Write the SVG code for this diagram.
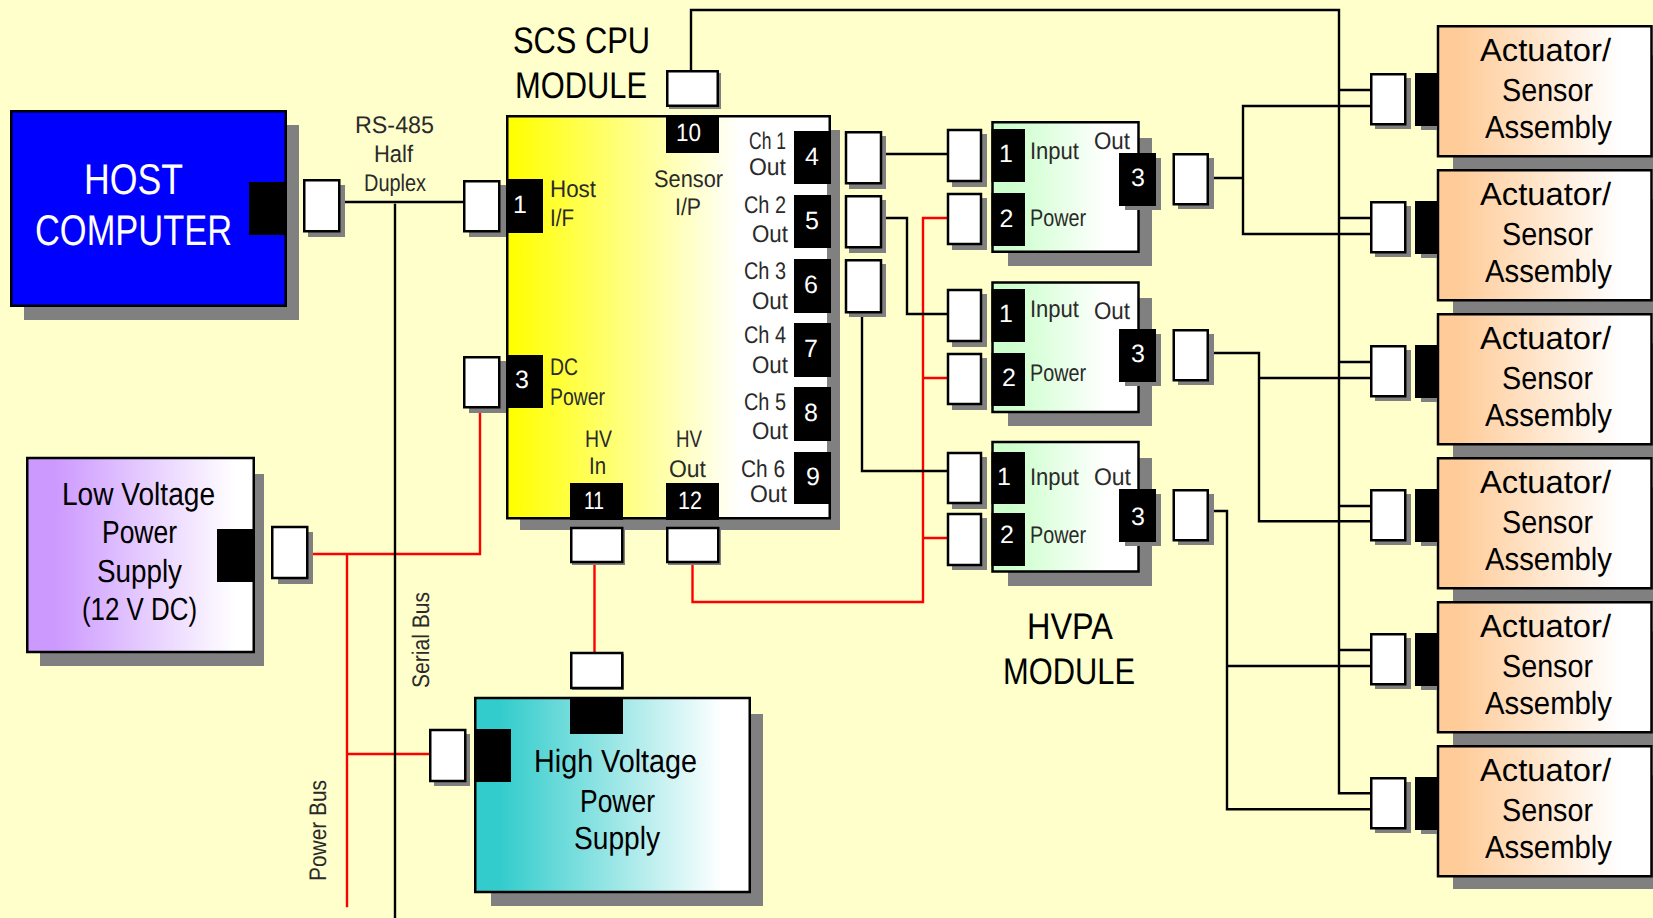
<svg xmlns="http://www.w3.org/2000/svg" width="1653" height="918" viewBox="0 0 1653 918">
<style>
text{font-family:"Liberation Sans",Arial,sans-serif;text-rendering:geometricPrecision}
.box{stroke:#000;stroke-width:2.5}
.plug{fill:#fff;stroke:#000;stroke-width:2.5}
.sh{fill:#808080}
.pt{fill:#000}
.w{stroke:#000;stroke-width:2.4;fill:none;stroke-linecap:square}
.r{stroke:#f00;stroke-width:2.4;fill:none;stroke-linecap:square}
.n{fill:#fff;font-size:25px;text-anchor:middle}
.l{fill:#2a2a2a;font-size:24px}
.a{fill:#000;font-size:32px}
.t{fill:#000;font-size:37px}
</style>
<defs>
<linearGradient id="gc" x1="0" x2="1" y1="0" y2="0"><stop offset="0.01" stop-color="#ff0"/><stop offset="0.72" stop-color="#fff"/></linearGradient>
<linearGradient id="gl" x1="0" x2="1" y1="0" y2="0"><stop offset="0.12" stop-color="#c9f"/><stop offset="0.92" stop-color="#fff"/></linearGradient>
<linearGradient id="gh" x1="0" x2="1" y1="0" y2="0"><stop offset="0.09" stop-color="#3cc"/><stop offset="0.9" stop-color="#fff"/></linearGradient>
<linearGradient id="gv" x1="0" x2="1" y1="0" y2="0"><stop offset="0.12" stop-color="#cfc"/><stop offset="0.78" stop-color="#fff"/></linearGradient>
<linearGradient id="ga" x1="0" x2="1" y1="0" y2="0"><stop offset="0.1" stop-color="#fc9"/><stop offset="0.86" stop-color="#fff"/></linearGradient>
</defs>
<rect width="1653" height="918" fill="#ffc"/>
<g id="connectors">
<path class="r" d="M480 405V554H313M347 554V906M347 754H429M594.500 560V652M692.500 565V602H923M923 602V218H947M923 378H947M923 538H947"/>
<path class="w" d="M345 202H464M395 205V918M691 70V10H1339V793.300H1371M886 154H947M886 218H907V314H947M862 313V471H947M1214 178H1243M1243 106V234M1243 106H1371M1243 234H1371M1339 90H1371M1339 218H1371M1339 362H1371M1339 506H1371M1339 650H1371M1214 353H1259V521.300H1371M1259 378H1371M1214 511H1227V809.300H1371M1227 666H1371"/>
</g>
<g id="host-computer">
<rect class="sh" x="24" y="125" width="275" height="195"/>
<rect class="box" fill="#00f" x="11.250" y="111.250" width="274.500" height="194.500"/>
<rect class="pt" x="249" y="182" width="37" height="53"/>
<text x="84" y="194" font-size="43" fill="#fff" textLength="99" lengthAdjust="spacingAndGlyphs">HOST</text>
<text x="35" y="245" font-size="43" fill="#fff" textLength="197" lengthAdjust="spacingAndGlyphs">COMPUTER</text>
<rect class="sh" x="308" y="185" width="37" height="52"/><rect class="plug" x="304.250" y="180.250" width="35" height="51"/>
</g>
<g id="rs485-label">
<text class="l" x="355" y="133" textLength="79" lengthAdjust="spacingAndGlyphs">RS-485</text>
<text class="l" x="374" y="162" textLength="39" lengthAdjust="spacingAndGlyphs">Half</text>
<text class="l" x="364" y="191" textLength="62" lengthAdjust="spacingAndGlyphs">Duplex</text>
</g>
<g id="bus-labels">
<text class="l" transform="translate(429 688) rotate(-90)" textLength="96" lengthAdjust="spacingAndGlyphs">Serial Bus</text>
<text class="l" transform="translate(326 881) rotate(-90)" textLength="101" lengthAdjust="spacingAndGlyphs">Power  Bus</text>
</g>
<g id="scs-cpu-module">
<rect class="sh" x="520" y="130" width="320" height="400"/>
<rect class="box" fill="url(#gc)" x="507.250" y="116.250" width="322.500" height="402"/>
<rect class="sh" x="827" y="184" width="13" height="268"/>
<rect class="sh" x="469" y="185" width="37" height="52"/><rect class="plug" x="464.250" y="181.250" width="35" height="50"/>
<rect class="sh" x="469" y="361" width="37" height="52"/><rect class="plug" x="464.250" y="357.250" width="35" height="50"/>
<rect class="sh" x="669" y="73" width="52" height="36"/><rect class="plug" x="667.250" y="71.250" width="50.500" height="34.500"/>
<rect class="pt" x="506" y="179" width="37" height="54"/>
<rect class="pt" x="506" y="355" width="37" height="53"/>
<rect class="pt" x="666" y="115" width="53" height="38"/>
<rect class="pt" x="794" y="131" width="37" height="53"/>
<rect class="pt" x="794" y="195" width="37" height="53"/>
<rect class="pt" x="794" y="259" width="37" height="54"/>
<rect class="pt" x="794" y="323" width="37" height="54"/>
<rect class="pt" x="794" y="387" width="37" height="54"/>
<rect class="pt" x="794" y="452" width="37" height="52"/>
<rect class="pt" x="570" y="483" width="53" height="37"/>
<rect class="pt" x="666" y="483" width="53" height="37"/>
<text class="t" x="513" y="53" textLength="137" lengthAdjust="spacingAndGlyphs">SCS CPU</text>
<text class="t" x="515" y="98" textLength="132" lengthAdjust="spacingAndGlyphs">MODULE</text>
<text class="n" x="520" y="213">1</text>
<text class="n" x="522" y="388">3</text>
<text class="n" x="688.500" y="141" textLength="25" lengthAdjust="spacingAndGlyphs">10</text>
<text class="n" x="812" y="165">4</text>
<text class="n" x="812" y="229">5</text>
<text class="n" x="811" y="293">6</text>
<text class="n" x="811" y="357">7</text>
<text class="n" x="811" y="421">8</text>
<text class="n" x="813" y="485">9</text>
<text class="n" x="594" y="509" textLength="20" lengthAdjust="spacingAndGlyphs">11</text>
<text class="n" x="690" y="509" textLength="24" lengthAdjust="spacingAndGlyphs">12</text>
<text class="l" x="550" y="197" textLength="46" lengthAdjust="spacingAndGlyphs">Host</text>
<text class="l" x="550" y="226" textLength="24" lengthAdjust="spacingAndGlyphs">I/F</text>
<text class="l" x="654" y="187" textLength="69" lengthAdjust="spacingAndGlyphs">Sensor</text>
<text class="l" x="675" y="215" textLength="26" lengthAdjust="spacingAndGlyphs">I/P</text>
<text class="l" x="550" y="375" textLength="28" lengthAdjust="spacingAndGlyphs">DC</text>
<text class="l" x="550" y="405" textLength="55" lengthAdjust="spacingAndGlyphs">Power</text>
<text class="l" x="585" y="447" textLength="27" lengthAdjust="spacingAndGlyphs">HV</text>
<text class="l" x="676" y="447" textLength="26" lengthAdjust="spacingAndGlyphs">HV</text>
<text class="l" x="589" y="474" textLength="17" lengthAdjust="spacingAndGlyphs">In</text>
<text class="l" x="669" y="477" textLength="37" lengthAdjust="spacingAndGlyphs">Out</text>
<text class="l" x="749" y="149" textLength="37" lengthAdjust="spacingAndGlyphs">Ch 1</text>
<text class="l" x="749" y="175" textLength="37" lengthAdjust="spacingAndGlyphs">Out</text>
<text class="l" x="744" y="213" textLength="42" lengthAdjust="spacingAndGlyphs">Ch 2</text>
<text class="l" x="752" y="242" textLength="36" lengthAdjust="spacingAndGlyphs">Out</text>
<text class="l" x="744" y="279" textLength="42" lengthAdjust="spacingAndGlyphs">Ch 3</text>
<text class="l" x="752" y="309" textLength="36" lengthAdjust="spacingAndGlyphs">Out</text>
<text class="l" x="744" y="343" textLength="42" lengthAdjust="spacingAndGlyphs">Ch 4</text>
<text class="l" x="752" y="373" textLength="36" lengthAdjust="spacingAndGlyphs">Out</text>
<text class="l" x="744" y="410" textLength="42" lengthAdjust="spacingAndGlyphs">Ch 5</text>
<text class="l" x="752" y="439" textLength="36" lengthAdjust="spacingAndGlyphs">Out</text>
<text class="l" x="741" y="477" textLength="44" lengthAdjust="spacingAndGlyphs">Ch 6</text>
<text class="l" x="750" y="502" textLength="37" lengthAdjust="spacingAndGlyphs">Out</text>
<rect class="sh" x="849" y="136" width="37" height="53"/><rect class="plug" x="846" y="132.250" width="35" height="51"/>
<rect class="sh" x="849" y="200" width="37" height="53"/><rect class="plug" x="846" y="196.250" width="35" height="51"/>
<rect class="sh" x="849" y="264" width="37" height="53"/><rect class="plug" x="846" y="260.250" width="35" height="52"/>
<rect class="sh" x="572" y="530" width="53" height="35"/><rect class="plug" x="571.250" y="528" width="51" height="34"/>
<rect class="sh" x="668" y="530" width="53" height="35"/><rect class="plug" x="667.250" y="528" width="51" height="34"/>
</g>
<g id="low-voltage-supply">
<rect class="sh" x="40" y="474" width="224" height="192"/>
<rect class="box" fill="url(#gl)" x="27.250" y="458" width="226.500" height="194"/>
<rect class="pt" x="217" y="529" width="37" height="53"/>
<text class="a" x="62" y="505" textLength="153" lengthAdjust="spacingAndGlyphs">Low Voltage</text>
<text class="a" x="102" y="543" textLength="75" lengthAdjust="spacingAndGlyphs">Power</text>
<text class="a" x="97" y="582" textLength="85" lengthAdjust="spacingAndGlyphs">Supply</text>
<text class="a" x="82" y="620" textLength="115" lengthAdjust="spacingAndGlyphs">(12 V DC)</text>
<rect class="sh" x="278" y="532" width="35" height="52"/><rect class="plug" x="272.250" y="527" width="35" height="51"/>
</g>
<g id="high-voltage-supply">
<rect class="sh" x="491" y="714" width="272" height="192"/>
<rect class="box" fill="url(#gh)" x="475.250" y="698" width="274.500" height="194"/>
<rect class="pt" x="474" y="729" width="37" height="53"/>
<rect class="pt" x="570" y="697" width="53" height="37"/>
<text class="a" x="534" y="772" textLength="163" lengthAdjust="spacingAndGlyphs">High Voltage</text>
<text class="a" x="580" y="812" textLength="75" lengthAdjust="spacingAndGlyphs">Power</text>
<text class="a" x="574" y="849" textLength="86" lengthAdjust="spacingAndGlyphs">Supply</text>
<rect class="sh" x="434" y="734" width="36" height="52"/><rect class="plug" x="430.250" y="730" width="35" height="51"/>
<rect class="sh" x="572" y="654" width="52" height="36"/><rect class="plug" x="571.250" y="653" width="51" height="35"/>
</g>
<g id="hvpa-1">
<rect class="sh" x="1008" y="138" width="144" height="128"/>
<rect class="box" fill="url(#gv)" x="992.500" y="122.250" width="146" height="129.500"/>
<rect class="sh" x="952" y="134" width="35" height="53"/><rect class="plug" x="948" y="130" width="33" height="51"/>
<rect class="sh" x="952" y="198" width="35" height="52"/><rect class="plug" x="948" y="194" width="33" height="50"/>
<rect class="pt" x="991.500" y="129" width="33.500" height="53"/>
<rect class="pt" x="991.500" y="193" width="33.500" height="53"/>
<rect class="sh" x="1125" y="158" width="36" height="52"/>
<rect class="pt" x="1119" y="153" width="37" height="53"/>
<text class="n" x="1006" y="162">1</text>
<text class="n" x="1006.500" y="227">2</text>
<text class="n" x="1138" y="186">3</text>
<text class="l" x="1030" y="159" textLength="49" lengthAdjust="spacingAndGlyphs">Input</text>
<text class="l" x="1094" y="149" textLength="36" lengthAdjust="spacingAndGlyphs">Out</text>
<text class="l" x="1030" y="226" textLength="56" lengthAdjust="spacingAndGlyphs">Power</text>
<rect class="sh" x="1178" y="158" width="36" height="51"/><rect class="plug" x="1173.750" y="154.250" width="34" height="50"/>
</g>
<g id="hvpa-2">
<rect class="sh" x="1008" y="298" width="144" height="128"/>
<rect class="box" fill="url(#gv)" x="992.500" y="282.500" width="146" height="129.500"/>
<rect class="sh" x="952" y="294" width="35" height="53"/><rect class="plug" x="948" y="290" width="33" height="51"/>
<rect class="sh" x="952" y="358" width="35" height="52"/><rect class="plug" x="948" y="354" width="33" height="50"/>
<rect class="pt" x="991.500" y="289" width="33.500" height="53"/>
<rect class="pt" x="991.500" y="353" width="33.500" height="53"/>
<rect class="sh" x="1125" y="334" width="36" height="52"/>
<rect class="pt" x="1119" y="329" width="37" height="53"/>
<text class="n" x="1006" y="322">1</text>
<text class="n" x="1009" y="386">2</text>
<text class="n" x="1138" y="362">3</text>
<text class="l" x="1030" y="317" textLength="49" lengthAdjust="spacingAndGlyphs">Input</text>
<text class="l" x="1094" y="319" textLength="36" lengthAdjust="spacingAndGlyphs">Out</text>
<text class="l" x="1030" y="381" textLength="56" lengthAdjust="spacingAndGlyphs">Power</text>
<rect class="sh" x="1178" y="334" width="36" height="51"/><rect class="plug" x="1173.750" y="330.250" width="34" height="50"/>
</g>
<g id="hvpa-3">
<rect class="sh" x="1008" y="458" width="144" height="128"/>
<rect class="box" fill="url(#gv)" x="992.500" y="442" width="146" height="129.500"/>
<rect class="sh" x="952" y="457" width="35" height="52"/><rect class="plug" x="948" y="453" width="33" height="50"/>
<rect class="sh" x="952" y="518" width="35" height="52"/><rect class="plug" x="948" y="514" width="33" height="51"/>
<rect class="pt" x="991.500" y="452" width="33.500" height="52"/>
<rect class="pt" x="991.500" y="513" width="33.500" height="53"/>
<rect class="sh" x="1125" y="494" width="36" height="52"/>
<rect class="pt" x="1119" y="489" width="37" height="53"/>
<text class="n" x="1004" y="485">1</text>
<text class="n" x="1007" y="543">2</text>
<text class="n" x="1138" y="525">3</text>
<text class="l" x="1030" y="485" textLength="49" lengthAdjust="spacingAndGlyphs">Input</text>
<text class="l" x="1094" y="485" textLength="37" lengthAdjust="spacingAndGlyphs">Out</text>
<text class="l" x="1030" y="543" textLength="56" lengthAdjust="spacingAndGlyphs">Power</text>
<rect class="sh" x="1178" y="494" width="36" height="51"/><rect class="plug" x="1173.750" y="490.250" width="34" height="50"/>
</g>
<g id="hvpa-label">
<text class="t" x="1027" y="639" textLength="86" lengthAdjust="spacingAndGlyphs">HVPA</text>
<text class="t" x="1003" y="684" textLength="132" lengthAdjust="spacingAndGlyphs">MODULE</text>
</g>
<g id="assembly-1">
<rect class="sh" x="1453" y="55" width="200" height="114"/>
<rect class="box" fill="url(#ga)" x="1438" y="26.250" width="213.500" height="130"/>
<rect class="sh" x="1421" y="77" width="16" height="53"/><rect class="pt" x="1415" y="73" width="22" height="53"/>
<rect class="sh" x="1375" y="78" width="36" height="51"/><rect class="plug" x="1371.250" y="74.250" width="34" height="50"/>
<text class="a" x="1480" y="61" textLength="131" lengthAdjust="spacingAndGlyphs">Actuator/</text>
<text class="a" x="1502" y="101" textLength="91" lengthAdjust="spacingAndGlyphs">Sensor</text>
<text class="a" x="1485" y="138" textLength="127" lengthAdjust="spacingAndGlyphs">Assembly</text>
</g>
<g id="assembly-2">
<rect class="sh" x="1453" y="199" width="200" height="114"/>
<rect class="box" fill="url(#ga)" x="1438" y="170.250" width="213.500" height="130"/>
<rect class="sh" x="1421" y="205" width="16" height="53"/><rect class="pt" x="1415" y="201" width="22" height="53"/>
<rect class="sh" x="1375" y="206" width="36" height="51"/><rect class="plug" x="1371.250" y="202.250" width="34" height="50"/>
<text class="a" x="1480" y="205" textLength="131" lengthAdjust="spacingAndGlyphs">Actuator/</text>
<text class="a" x="1502" y="245" textLength="91" lengthAdjust="spacingAndGlyphs">Sensor</text>
<text class="a" x="1485" y="282" textLength="127" lengthAdjust="spacingAndGlyphs">Assembly</text>
</g>
<g id="assembly-3">
<rect class="sh" x="1453" y="343" width="200" height="114"/>
<rect class="box" fill="url(#ga)" x="1438" y="314.250" width="213.500" height="130"/>
<rect class="sh" x="1421" y="349" width="16" height="53"/><rect class="pt" x="1415" y="345" width="22" height="53"/>
<rect class="sh" x="1375" y="350" width="36" height="51"/><rect class="plug" x="1371.250" y="346.250" width="34" height="50"/>
<text class="a" x="1480" y="349" textLength="131" lengthAdjust="spacingAndGlyphs">Actuator/</text>
<text class="a" x="1502" y="389" textLength="91" lengthAdjust="spacingAndGlyphs">Sensor</text>
<text class="a" x="1485" y="426" textLength="127" lengthAdjust="spacingAndGlyphs">Assembly</text>
</g>
<g id="assembly-4">
<rect class="sh" x="1453" y="487" width="200" height="115"/>
<rect class="box" fill="url(#ga)" x="1438" y="458.250" width="213.500" height="130"/>
<rect class="sh" x="1421" y="493" width="16" height="53"/><rect class="pt" x="1415" y="489" width="22" height="53"/>
<rect class="sh" x="1375" y="494" width="36" height="51"/><rect class="plug" x="1371.250" y="490.250" width="34" height="50"/>
<text class="a" x="1480" y="493" textLength="131" lengthAdjust="spacingAndGlyphs">Actuator/</text>
<text class="a" x="1502" y="533" textLength="91" lengthAdjust="spacingAndGlyphs">Sensor</text>
<text class="a" x="1485" y="570" textLength="127" lengthAdjust="spacingAndGlyphs">Assembly</text>
</g>
<g id="assembly-5">
<rect class="sh" x="1453" y="631" width="200" height="115"/>
<rect class="box" fill="url(#ga)" x="1438" y="602.250" width="213.500" height="130"/>
<rect class="sh" x="1421" y="637" width="16" height="53"/><rect class="pt" x="1415" y="633" width="22" height="53"/>
<rect class="sh" x="1375" y="638" width="36" height="51"/><rect class="plug" x="1371.250" y="634.250" width="34" height="50"/>
<text class="a" x="1480" y="637" textLength="131" lengthAdjust="spacingAndGlyphs">Actuator/</text>
<text class="a" x="1502" y="677" textLength="91" lengthAdjust="spacingAndGlyphs">Sensor</text>
<text class="a" x="1485" y="714" textLength="127" lengthAdjust="spacingAndGlyphs">Assembly</text>
</g>
<g id="assembly-6">
<rect class="sh" x="1453" y="775" width="200" height="114"/>
<rect class="box" fill="url(#ga)" x="1438" y="746.250" width="213.500" height="130"/>
<rect class="sh" x="1421" y="781" width="16" height="53"/><rect class="pt" x="1415" y="777" width="22" height="53"/>
<rect class="sh" x="1375" y="782" width="36" height="51"/><rect class="plug" x="1371.250" y="778.250" width="34" height="50"/>
<text class="a" x="1480" y="781" textLength="131" lengthAdjust="spacingAndGlyphs">Actuator/</text>
<text class="a" x="1502" y="821" textLength="91" lengthAdjust="spacingAndGlyphs">Sensor</text>
<text class="a" x="1485" y="858" textLength="127" lengthAdjust="spacingAndGlyphs">Assembly</text>
</g>
</svg>
